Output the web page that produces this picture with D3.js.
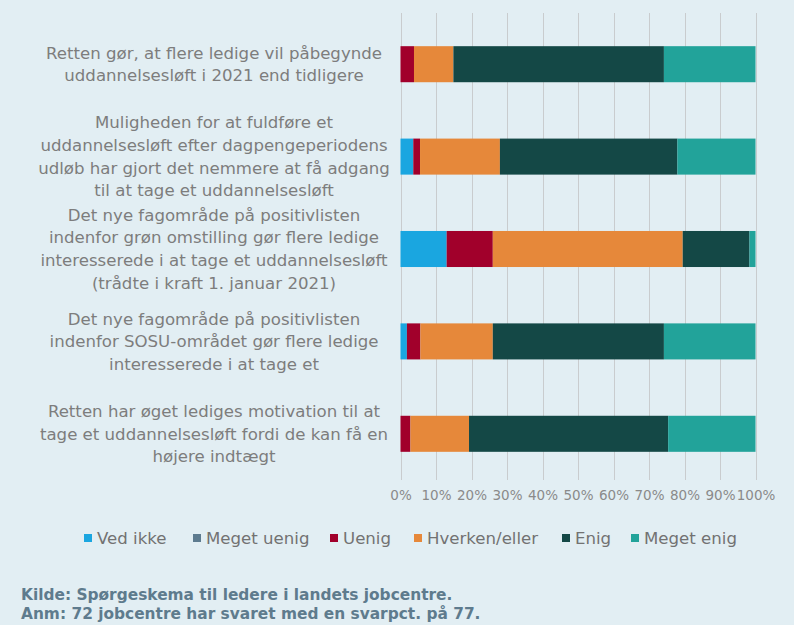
<!DOCTYPE html>
<html><head><meta charset="utf-8">
<script src="https://cdn.jsdelivr.net/npm/d3@7"></script>
<style>
html,body{margin:0;padding:0;background:#e2eef3;}
svg{display:block;}
</style></head>
<body>
<svg id="c" width="794" height="625"></svg>
<script>
const categories = [
  ["Retten gør, at flere ledige vil påbegynde", "uddannelsesløft i 2021 end tidligere"],
  ["Muligheden for at fuldføre et", "uddannelsesløft efter dagpengeperiodens", "udløb har gjort det nemmere at få adgang", "til at tage et uddannelsesløft"],
  ["Det nye fagområde på positivlisten", "indenfor grøn omstilling gør flere ledige", "interesserede i at tage et uddannelsesløft", "(trådte i kraft 1. januar 2021)"],
  ["Det nye fagområde på positivlisten", "indenfor SOSU-området gør flere ledige", "interesserede i at tage et"],
  ["Retten har øget lediges motivation til at", "tage et uddannelsesløft fordi de kan få en", "højere indtægt"]
];
const seriesNames = ["Ved ikke", "Meget uenig", "Uenig", "Hverken/eller", "Enig", "Meget enig"];
const vedIkke     = [0,   3.6,  13.0, 1.8,  0];
const megetUenig  = [0,   0,    0,    0,    0];
const uenig       = [3.8, 1.9,  13.0, 3.8,  2.8];
const hverken     = [11.1, 22.5, 53.5, 20.4, 16.5];
const enig        = [59.3, 50.0, 18.8, 48.2, 56.1];
const megetEnig   = [25.8, 22.0, 1.7, 25.8, 24.6];
const seriesColors = ["#1aa6e0", "#5d7b8f", "#a1002b", "#e6883a", "#144846", "#22a39a"];
const tickValues = [0,10,20,30,40,50,60,70,80,90,100];

const seriesValues = [vedIkke, megetUenig, uenig, hverken, enig, megetEnig];
const rows = categories.map((c,i)=>{
  const r = {idx:i};
  seriesNames.forEach((s,j)=> r[s] = seriesValues[j][i]);
  return r;
});

const svg = d3.select("#c");
const x = d3.scaleLinear().domain([0,100]).range([400.5,755.5]);
const y = d3.scaleBand().domain(d3.range(categories.length)).range([18,480]).paddingInner(0.61).paddingOuter(0.305);
const FONT = "DejaVu Sans, Verdana, sans-serif";

// gridlines
svg.append("g").selectAll("line").data(tickValues).join("line")
  .attr("x1", d=>Math.round(x(d))+0.5).attr("x2", d=>Math.round(x(d))+0.5)
  .attr("y1", 13).attr("y2", 480)
  .attr("stroke", "#c9ccce").attr("stroke-width", 1);

// stacked bars
const stack = d3.stack().keys(seriesNames)(rows);
const color = d3.scaleOrdinal().domain(seriesNames).range(seriesColors);
svg.append("g").selectAll("g").data(stack).join("g")
  .attr("fill", d=>color(d.key))
  .selectAll("rect").data(d=>d).join("rect")
  .attr("x", d=>x(d[0])).attr("width", d=>Math.max(0, x(d[1])-x(d[0])))
  .attr("y", (d,i)=>y(i)).attr("height", y.bandwidth());

// category labels
const lh = 22.7;
const lab = svg.append("g").attr("font-family", FONT).attr("font-size", 16.6).attr("fill", "#7d7d7d").attr("text-anchor","middle");
categories.forEach((lines,i)=>{
  const cy = y(i) + y.bandwidth()/2;
  const n = lines.length;
  lines.forEach((t,k)=>{
    lab.append("text").attr("x", 214).attr("y", cy + (k-(n-1)/2)*lh).attr("dy","0.35em").text(t);
  });
});

// axis tick labels
const xAxis = d3.axisBottom(x).tickValues(tickValues).tickFormat(d=>d+"%").tickSize(0).tickPadding(0);
const ax = svg.append("g").attr("transform","translate(0,490)").call(xAxis);
ax.select(".domain").remove();
ax.selectAll("text").attr("font-family", FONT).attr("font-size", 13.5).attr("fill","#8a8a8a");

// legend
const legX = [84, 193, 330, 414, 562, 631];
const leg = svg.append("g").attr("font-family", FONT).attr("font-size", 16.6).attr("fill", "#727272");
seriesNames.forEach((s,i)=>{
  leg.append("rect").attr("x", legX[i]).attr("y", 534).attr("width", 8).attr("height", 8).attr("fill", seriesColors[i]);
  leg.append("text").attr("x", legX[i]+13).attr("y", 538).attr("dy","0.35em").text(s);
});

// notes
const notes = svg.append("g").attr("font-family", FONT).attr("font-size", 15.4).attr("font-weight","bold").attr("fill","#5e7b8d");
notes.append("text").attr("x", 21).attr("y", 600).text("Kilde: Spørgeskema til ledere i landets jobcentre.");
notes.append("text").attr("x", 21).attr("y", 619).text("Anm: 72 jobcentre har svaret med en svarpct. på 77.");
</script>
</body></html>
